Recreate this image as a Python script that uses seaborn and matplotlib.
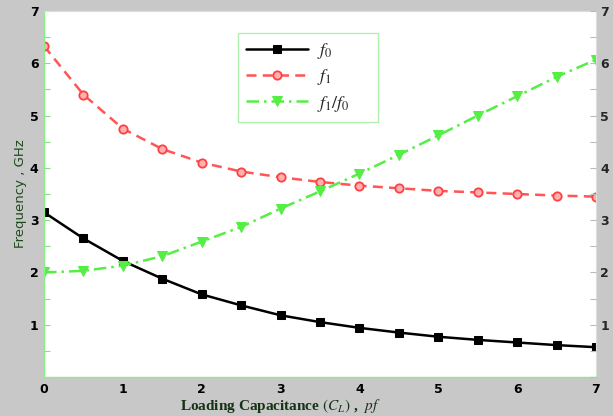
import matplotlib
matplotlib.use("Agg")
import matplotlib.pyplot as plt
import seaborn as sns
import pandas as pd
import numpy as np

cap = [0, 0.5, 1, 1.5, 2, 2.5, 3, 3.5, 4, 4.5, 5, 5.5, 6, 6.5, 7]
f0 = [3.15, 2.65, 2.22, 1.88, 1.58, 1.37, 1.18, 1.05, 0.94, 0.85, 0.77, 0.71, 0.66, 0.61, 0.57]
f1 = [6.33, 5.40, 4.75, 4.36, 4.10, 3.93, 3.82, 3.73, 3.66, 3.61, 3.56, 3.53, 3.50, 3.47, 3.45]
ratio = [2.00, 2.03, 2.13, 2.31, 2.59, 2.87, 3.22, 3.55, 3.89, 4.25, 4.62, 5.00, 5.37, 5.74, 6.07]
labels = [r"$f_0$", r"$f_1$", r"$f_1/f_0$"]

sns.set_style("white")
plt.rcParams["mathtext.fontset"] = "stix"
bg = "#c8c8c8"
fig = plt.figure(figsize=(6.13, 4.16), dpi=100, facecolor=bg)
ax = fig.add_axes([44/613, 1-377/416, (596-44)/613, (377-11)/416])
ax.set_facecolor("white")

sns.lineplot(x=cap, y=f0, ax=ax, color="black", lw=1.8, marker="s", markersize=5.5,
             markeredgecolor="black", markerfacecolor="black", label=labels[0])
sns.lineplot(x=cap, y=f1, ax=ax, color="#ff5555", lw=1.8, linestyle=(0, (4, 2.5)), marker="o",
             markersize=6, markeredgecolor="#ff4040", markerfacecolor="#ffb0b0",
             markeredgewidth=1.3, label=labels[1])
sns.lineplot(x=cap, y=ratio, ax=ax, color="#55ee44", lw=1.8, linestyle=(0, (5, 2, 1, 2)), marker="v",
             markersize=6.5, markeredgecolor="#55ee44", markerfacecolor="#55ee44", label=labels[2])

ax.set_xlim(0, 7)
ax.set_ylim(0, 7)
ticks = np.arange(0, 7.01, 0.5)
ax.set_xticks(ticks)
ax.set_xticklabels([str(int(t)) if float(t).is_integer() else "" for t in ticks])
ax.set_yticks(ticks)
ax.set_yticklabels([str(int(t)) if float(t).is_integer() and t > 0 else "" for t in ticks])
ax.tick_params(axis="both", direction="in", length=4, color="#88dd88", labelsize=9, pad=4,
               labelcolor="black")
for lab in ax.get_xticklabels() + ax.get_yticklabels():
    lab.set_fontweight("bold")
for s in ["left", "bottom"]:
    ax.spines[s].set_color("#88ee88")
    ax.spines[s].set_linewidth(1.0)
for s in ["top", "right"]:
    ax.spines[s].set_color("#dddddd")

ax2 = ax.twinx()
ax2.set_ylim(0, 7)
ax2.set_yticks(ticks)
ax2.set_yticklabels([str(int(t)) if float(t).is_integer() and t > 0 else "" for t in ticks])
ax2.tick_params(axis="y", direction="in", length=4, color="#bbbbbb", labelsize=9, pad=3)
for lab in ax2.get_yticklabels():
    lab.set_fontweight("bold")
for s in ax2.spines.values():
    s.set_visible(False)

ax.set_xlabel(r"Loading Capacitance $(C_L)$ ,  $pf$", family="Liberation Serif",
              fontweight="bold", fontsize=11, color="#143214", labelpad=2)
ax.xaxis.set_label_coords(236/552, -0.055)
ax.set_ylabel("Frequency , GHz", fontsize=9.5, color="#1e4a1e", labelpad=2)

leg = ax.legend(loc="upper left",
                bbox_to_anchor=(194/552, 1 - 109/366, 140/552, 87/366), mode="expand",
                frameon=True, fontsize=13, handlelength=3.4, borderpad=0.45,
                labelspacing=0.35, borderaxespad=0, handletextpad=0.5,
                fancybox=False, edgecolor="#99ee99")
leg.get_frame().set_linewidth(1.0)

fig.savefig("out.png", dpi=100, facecolor=bg)
